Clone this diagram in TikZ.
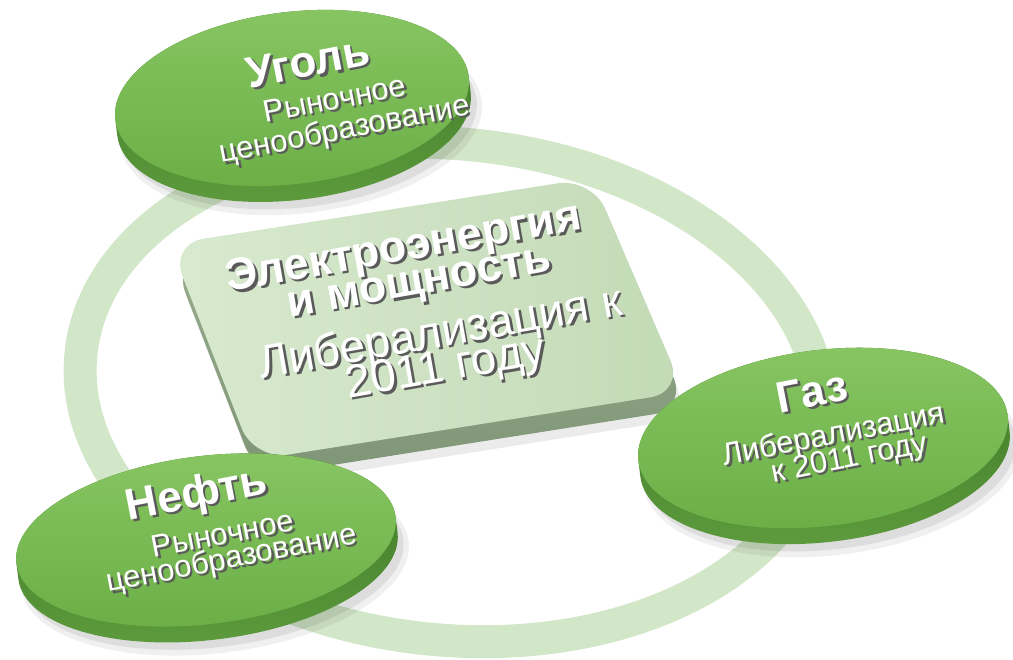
\documentclass[tikz,border=0pt]{standalone}
\usepackage{fontspec}
\setmainfont{Liberation Sans}
\definecolor{ringgreen}{HTML}{D2E6C8}
\definecolor{facelight}{HTML}{88C663}
\definecolor{facedark}{HTML}{6AAE45}
\definecolor{rimlight}{HTML}{5E9C3E}
\definecolor{rimdark}{HTML}{3C7424}
\definecolor{boxlight}{HTML}{D8EACF}
\definecolor{boxdark}{HTML}{C3DAB6}
\definecolor{boxside}{HTML}{9DB293}
\definecolor{boxsidedark}{HTML}{7F9676}
\definecolor{txtshadow}{HTML}{5A5A5A}
\newcommand\mydisc[5]{%
  \begin{scope}[rotate around={#5:(#1,#2)}]
    \fill[black, opacity=0.06] (#1+6,#2-26) ellipse (#3pt+4pt and #4pt+4pt);
    \fill[black, opacity=0.08] (#1+5,#2-24) ellipse (#3pt and #4pt);
    \shade[top color=rimdark, bottom color=rimlight]
      (#1-#3,#2) -- (#1-#3,#2-16)
      arc[start angle=180, end angle=360, x radius=#3pt, y radius=#4pt]
      -- (#1+#3,#2)
      arc[start angle=0, end angle=180, x radius=#3pt, y radius=#4pt] -- cycle;
    \shade[top color=facelight, bottom color=facedark] (#1,#2) ellipse (#3pt and #4pt);
  \end{scope}}
\newcommand\embossed[1]{%
  \makebox[0pt][l]{\hspace*{2.2pt}\raisebox{-2.6pt}{\textcolor{txtshadow}{#1}}}%
  \textcolor{white}{#1}}
\newcommand\mytext[4]{%
  \node[#3] (#1) at (#2) {\embossed{#4}};}
\begin{document}
\begin{tikzpicture}[x=1pt, y=1pt,
  lbl/.style={inner sep=0pt, rotate=11},
  ttl/.style={lbl, font=\bfseries\fontsize{44}{44}\selectfont},
  sub/.style={lbl, font=\fontsize{31}{31}\selectfont},
  cbold/.style={lbl, rotate=-1, font=\bfseries\fontsize{45}{45}\selectfont},
  creg/.style={lbl, rotate=-1, font=\fontsize{46}{46}\selectfont}]
\useasboundingbox (0,0) rectangle (1013,660);
% ring
\draw[ringgreen, line width=33pt, rotate around={-6:(451,268)}] (451,268) ellipse (372pt and 248pt);
% central box
\fill[black, opacity=0.08, rounded corners=34pt, shift={(6,-26)}] (170,416) -- (592,482) -- (684,268) -- (254,200) -- cycle;
\shade[top color=boxside, bottom color=boxsidedark, rounded corners=34pt, shift={(3,-17)}] (170,416) -- (592,482) -- (684,268) -- (254,200) -- cycle;
\shade[left color=boxlight, right color=boxdark, rounded corners=34pt] (170,416) -- (592,482) -- (684,268) -- (254,200) -- cycle;
\mytext{c1}{404,409}{cbold}{Электроэнергия}
\mytext{c2}{420,372}{cbold}{и мощность}
\mytext{c3}{441,324}{creg}{Либерализация к}
\mytext{c4}{446,289}{creg}{2011 году}
% discs
\mydisc{292}{562}{178}{86}{7}
\mydisc{823}{222}{186}{88}{7}
\mydisc{206}{120}{191}{84}{7}
% Уголь
\mytext{u1}{308,597}{ttl}{Уголь}
\mytext{u2}{335,560}{sub}{Рыночное}
\mytext{u3}{345,528}{sub}{ценообразование}
% Газ
\mytext{g1}{812,267}{ttl}{Газ}
\mytext{g2}{834,223}{sub}{Либерализация}
\mytext{g3}{850,199}{sub}{к 2011 году}
% Нефть
\mytext{n1}{197,163}{ttl}{Нефть}
\mytext{n2}{223,125}{sub}{Рыночное}
\mytext{n3}{232,99}{sub}{ценообразование}
\end{tikzpicture}
\end{document}
